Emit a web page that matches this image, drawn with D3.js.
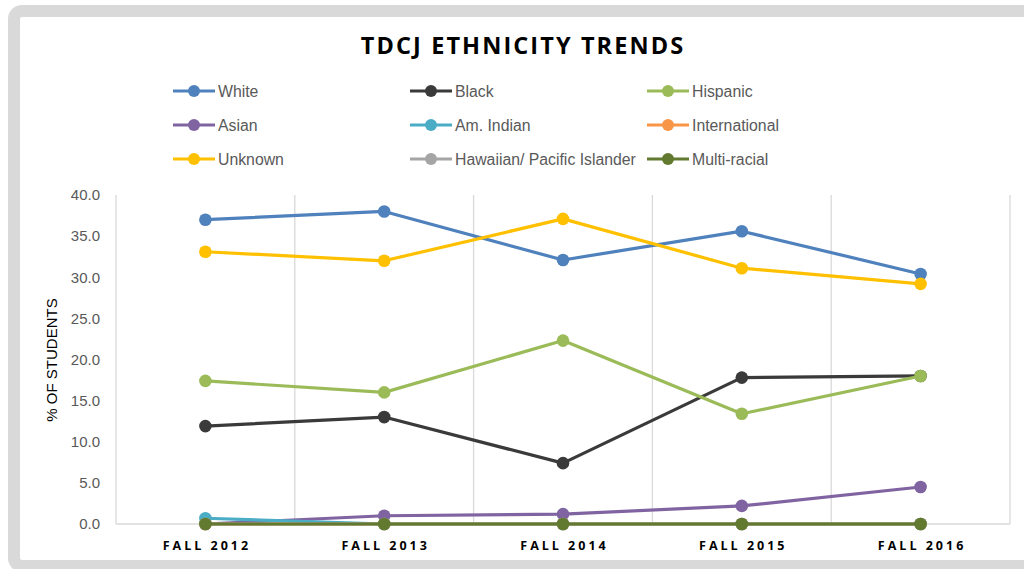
<!DOCTYPE html>
<html><head><meta charset="utf-8">
<script src="https://cdn.jsdelivr.net/npm/d3@7"></script>
<style>body{margin:0;background:#fff}svg{display:block}</style>
</head><body><svg id="c" width="1024" height="569"></svg>
<script>
const categories = ["FALL 2012","FALL 2013","FALL 2014","FALL 2015","FALL 2016"];
const seriesNames = ["White","Black","Hispanic","Asian","Am. Indian","International","Unknown","Hawaiian/ Pacific Islander","Multi-racial"];
const white = [37.0, 38.0, 32.1, 35.6, 30.4];
const black = [11.9, 13.0, 7.4, 17.8, 18.0];
const hispanic = [17.4, 16.0, 22.3, 13.4, 18.0];
const asian = [0.0, 1.0, 1.2, 2.2, 4.5];
const amIndian = [0.7, 0.0, 0.0, 0.0, 0.0];
const international = [0.0, 0.0, 0.0, 0.0, 0.0];
const unknown = [33.1, 32.0, 37.1, 31.1, 29.2];
const hawaiian = [0.0, 0.0, 0.0, 0.0, 0.0];
const multiRacial = [0.0, 0.0, 0.0, 0.0, 0.0];
const yTicks = [0,5,10,15,20,25,30,35,40];
const colors = ["#4f81bd","#3a3a3a","#9bbb59","#8064a2","#4bacc6","#f79646","#ffc000","#a5a5a5","#617a30"];
const seriesValues = [white,black,hispanic,asian,amIndian,international,unknown,hawaiian,multiRacial];

const svg = d3.select("#c");
// frame
svg.append("rect").attr("x",14).attr("y",11).attr("width",1040).attr("height",555)
  .attr("rx",8).attr("fill","#fff").attr("stroke","#d9d9d9").attr("stroke-width",12);

const x = d3.scaleBand().domain(categories).range([116,1010]);
const y = d3.scaleLinear().domain([0,40]).range([524,195]);

// vertical gridlines at band boundaries
const bounds = categories.map(c=>x(c)).concat([x.range()[1]]);
svg.append("g").selectAll("line").data(bounds).join("line")
  .attr("x1",d=>d).attr("x2",d=>d).attr("y1",y(40)).attr("y2",y(0))
  .attr("stroke","#d9d9d9").attr("stroke-width",1.3);
svg.append("line").attr("x1",116).attr("x2",1010).attr("y1",y(0)).attr("y2",y(0))
  .attr("stroke","#d9d9d9").attr("stroke-width",1.3);

// y axis labels
svg.append("g").selectAll("text").data(yTicks).join("text")
  .attr("x",100).attr("y",d=>y(d)).attr("dy","0.35em").attr("text-anchor","end")
  .attr("font-family","Liberation Sans, Arial, sans-serif").attr("font-size",15).attr("fill","#595959")
  .text(d=>d3.format(".1f")(d));
// x labels
svg.append("g").selectAll("text").data(categories).join("text")
  .attr("x",d=>x(d)+x.bandwidth()/2+1.5).attr("y",550).attr("text-anchor","middle")
  .attr("font-family","Open Sans, Liberation Sans, sans-serif").attr("font-weight","bold")
  .attr("font-size",12.5).attr("letter-spacing","3px").attr("fill","#000").text(d=>d);
// y title
svg.append("text").attr("transform","translate(57,360) rotate(-90)").attr("text-anchor","middle")
  .attr("font-family","Liberation Sans, Arial, sans-serif").attr("font-size",15).attr("fill","#000")
  .text("% OF STUDENTS");
// title
svg.append("text").attr("x",523).attr("y",54).attr("text-anchor","middle")
  .attr("font-family","Open Sans, Liberation Sans, sans-serif").attr("font-weight","bold")
  .attr("font-size",23.5).attr("letter-spacing","2.1px").attr("fill","#000").text("TDCJ ETHNICITY TRENDS");

// series
const line = d3.line().x((d,i)=>x(categories[i])+x.bandwidth()/2).y(d=>y(d));
seriesValues.forEach((vals,k)=>{
  const g = svg.append("g");
  g.append("path").attr("d",line(vals)).attr("fill","none").attr("stroke",colors[k])
    .attr("stroke-width",3.2).attr("stroke-linejoin","round");
  g.selectAll("circle").data(vals).join("circle")
    .attr("cx",(d,i)=>x(categories[i])+x.bandwidth()/2).attr("cy",d=>y(d)).attr("r",6.3)
    .attr("fill",colors[k]);
});

// legend
const colX = [173,410,647];
const rowY = [91,125,159];
seriesNames.forEach((n,k)=>{
  const cx = colX[k%3], cy = rowY[Math.floor(k/3)];
  const g = svg.append("g");
  g.append("line").attr("x1",cx).attr("x2",cx+42).attr("y1",cy).attr("y2",cy)
    .attr("stroke",colors[k]).attr("stroke-width",3.2);
  g.append("circle").attr("cx",cx+21).attr("cy",cy).attr("r",6).attr("fill",colors[k]);
  g.append("text").attr("x",cx+45).attr("y",cy).attr("dy","0.35em")
    .attr("font-family","Liberation Sans, Arial, sans-serif").attr("font-size",15.8).attr("fill","#595959")
    .text(n);
});
</script></body></html>
